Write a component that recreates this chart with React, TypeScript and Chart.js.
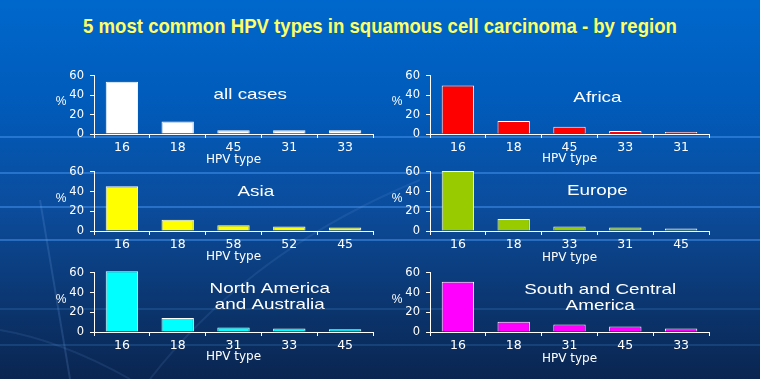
import React, { useEffect, useRef } from "react";
import { Chart, registerables } from "chart.js";

Chart.register(...registerables);

const TITLE = "5 most common HPV types in squamous cell carcinoma - by region";
const X_TITLE = "HPV type";
const Y_TITLE = "%";
const Y_MIN = 0;
const Y_MAX = 60;
const Y_STEP = 20;

const ALL_NAME = "all cases";
const ALL_TYPES = ["16", "18", "45", "31", "33"];
const ALL_VALUES = [54, 13, 4, 4, 4];

const AFRICA_NAME = "Africa";
const AFRICA_TYPES = ["16", "18", "45", "33", "31"];
const AFRICA_VALUES = [50, 13.5, 7.5, 3, 2];

const ASIA_NAME = "Asia";
const ASIA_TYPES = ["16", "18", "58", "52", "45"];
const ASIA_VALUES = [45.5, 11.3, 5.8, 4.5, 3.6];

const EUROPE_NAME = "Europe";
const EUROPE_TYPES = ["16", "18", "33", "31", "45"];
const EUROPE_VALUES = [61, 12.3, 4.5, 3.6, 2.6];

const NA_NAME = "North America\nand Australia";
const NA_TYPES = ["16", "18", "31", "33", "45"];
const NA_VALUES = [61.6, 14.2, 4.5, 3.6, 2.8];

const SCA_NAME = "South and Central\nAmerica";
const SCA_TYPES = ["16", "18", "31", "45", "33"];
const SCA_VALUES = [51, 10.4, 7.5, 5.5, 3.6];

type Panel = {
  name: string;
  types: string[];
  values: number[];
  color: string;
  left: number;
  top: number;
  height: number;
  xh: number;
  fx: number;
  fy: number;
};

const PANELS: Panel[] = [
  { name: ALL_NAME, types: ALL_TYPES, values: ALL_VALUES, color: "#FFFFFF", left: 40, top: 63, height: 104, xh: 33, fx: 0.56, fy: 0.33 },
  { name: AFRICA_NAME, types: AFRICA_TYPES, values: AFRICA_VALUES, color: "#FF0000", left: 376, top: 63, height: 103, xh: 32, fx: 0.6, fy: 0.38 },
  { name: ASIA_NAME, types: ASIA_TYPES, values: ASIA_VALUES, color: "#FFFF00", left: 40, top: 159, height: 105, xh: 33, fx: 0.58, fy: 0.34 },
  { name: EUROPE_NAME, types: EUROPE_TYPES, values: EUROPE_VALUES, color: "#99CC00", left: 376, top: 159, height: 106, xh: 34, fx: 0.6, fy: 0.32 },
  { name: NA_NAME, types: NA_TYPES, values: NA_VALUES, color: "#00FFFF", left: 40, top: 260, height: 104, xh: 32, fx: 0.63, fy: 0.27 },
  { name: SCA_NAME, types: SCA_TYPES, values: SCA_VALUES, color: "#FF00FF", left: 376, top: 260, height: 106, xh: 34, fx: 0.61, fy: 0.29 },
];

const CANVAS_W = 335;

const panelTextPlugin = {
  id: "panelText",
  afterDraw(chart: any, _args: any, opts: any) {
    const { ctx, chartArea } = chart;
    ctx.save();
    ctx.fillStyle = "#FFFFFF";
    ctx.textAlign = "center";
    ctx.textBaseline = "middle";
    ctx.font = "14.5px 'Liberation Sans', Arial, sans-serif";
    const cx = chartArea.left + opts.fx * (chartArea.right - chartArea.left);
    const cy = chartArea.top + opts.fy * (chartArea.bottom - chartArea.top);
    const lines = String(opts.text).split("\n");
    lines.forEach((ln: string, i: number) => {
      ctx.save();
      ctx.translate(cx, cy + i * 16);
      ctx.scale(1.3, 1);
      ctx.fillText(ln, 0, 0);
      ctx.restore();
    });
    ctx.font = "12px 'Liberation Sans', Arial, sans-serif";
    ctx.fillText(opts.yTitle, chartArea.left - 33, (chartArea.top + chartArea.bottom) / 2 - 3);
    ctx.restore();
  },
};

function MiniChart({ p }: { p: Panel }) {
  const ref = useRef<HTMLCanvasElement | null>(null);
  useEffect(() => {
    if (!ref.current) return;
    const tickFont = { family: "'DejaVu Sans', sans-serif", size: 12.5 };
    const chart = new Chart(ref.current, {
      type: "bar",
      data: {
        labels: p.types,
        datasets: [
          {
            data: p.values,
            backgroundColor: p.color,
            borderColor: "#FFFFFF",
            borderWidth: 1,
            barPercentage: 0.58,
            categoryPercentage: 1,
            clip: false as any,
          },
        ],
      },
      options: {
        animation: false,
        responsive: false,
        maintainAspectRatio: false,
        layout: { padding: { top: 10, right: 2, bottom: 0, left: 0 } },
        plugins: {
          legend: { display: false },
          tooltip: { enabled: false },
          title: { display: false },
          panelText: { text: p.name, fx: p.fx, fy: p.fy, yTitle: Y_TITLE },
        } as any,
        scales: {
          x: {
            grid: { display: true, drawOnChartArea: false, drawTicks: true, tickLength: 4, color: "#FFFFFF", lineWidth: 1, offset: true },
            border: { display: true, color: "#FFFFFF", width: 1 },
            ticks: { color: "#FFFFFF", font: tickFont, padding: 2, maxRotation: 0, autoSkip: false },
            title: { display: true, text: X_TITLE, color: "#FFFFFF", font: { family: "'DejaVu Sans', sans-serif", size: 12 }, padding: 0 },
            afterFit: (s: any) => {
              s.height = p.xh;
            },
          },
          y: {
            min: Y_MIN,
            max: Y_MAX,
            ticks: { stepSize: Y_STEP, color: "#FFFFFF", font: { family: "'DejaVu Sans', sans-serif", size: 11.5 }, padding: 6 },
            grid: { display: true, drawOnChartArea: false, drawTicks: true, tickLength: 4, color: "#FFFFFF", lineWidth: 1 },
            border: { display: true, color: "#FFFFFF", width: 1 },
            afterFit: (s: any) => {
              s.width = 54;
            },
          },
        },
      },
      plugins: [panelTextPlugin],
    });
    return () => chart.destroy();
  }, [p]);
  return (
    <canvas
      ref={ref}
      width={CANVAS_W}
      height={p.height}
      style={{ position: "absolute", left: p.left, top: p.top, width: CANVAS_W, height: p.height }}
    />
  );
}

const BAND_YS = [137, 173, 207, 240];
const FAINT_BAND_YS = [309, 345];

export default function App() {
  return (
    <div
      style={{
        position: "absolute",
        left: 0,
        top: 0,
        width: 760,
        height: 379,
        overflow: "hidden",
        background: "linear-gradient(to bottom, #0068CC 0%, #005CBC 25%, #0B4C9C 55%, #0B3670 80%, #0A2550 100%)",
      }}
    >
      {BAND_YS.map((y) => (
        <div key={y} style={{ position: "absolute", left: 0, top: y - 1, width: 760, height: 2, background: "rgba(70,150,240,0.5)" }} />
      ))}
      {FAINT_BAND_YS.map((y) => (
        <div key={y} style={{ position: "absolute", left: 0, top: y - 1, width: 760, height: 2, background: "rgba(70,140,220,0.22)" }} />
      ))}
      <svg width={760} height={379} style={{ position: "absolute", left: 0, top: 0 }}>
        <path d="M40 200 Q55 290 70 379" stroke="rgba(120,170,240,0.18)" strokeWidth={2} fill="none" />
        <path d="M150 379 Q250 250 420 180" stroke="rgba(120,170,240,0.12)" strokeWidth={2} fill="none" />
        <path d="M0 330 Q60 340 130 379" stroke="rgba(120,170,240,0.12)" strokeWidth={2} fill="none" />
      </svg>
      <div
        style={{
          position: "absolute",
          left: 0,
          top: 12,
          width: 760,
          textAlign: "center",
          fontFamily: "'Liberation Sans', Arial, sans-serif",
          fontWeight: "bold",
          fontSize: 21,
          color: "#FFFF66",
          lineHeight: "28px",
          transform: "scaleX(0.885)",
          transformOrigin: "380px 0",
          whiteSpace: "nowrap",
        }}
      >
        {TITLE}
      </div>
      {PANELS.map((p, i) => (
        <MiniChart key={i} p={p} />
      ))}
    </div>
  );
}
